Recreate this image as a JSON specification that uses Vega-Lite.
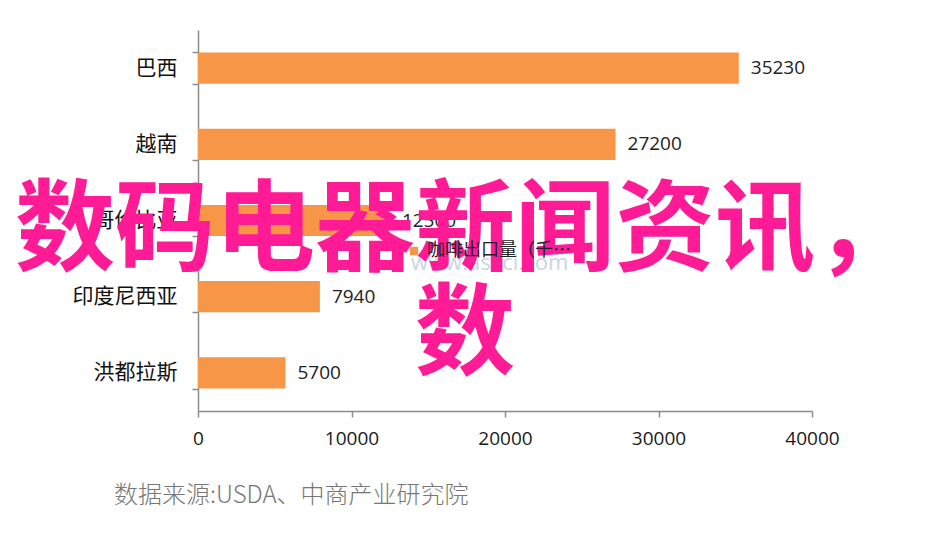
{
  "$schema": "https://vega.github.io/schema/vega-lite/v6.json",
  "width": 614,
  "height": 381,
  "autosize": {"type": "none"},
  "padding": {"left": 198, "top": 30, "right": 119, "bottom": 128},
  "background": "white",
  "config": {"view": {"stroke": null}, "font": "Noto Sans CJK SC"},
  "title": {
    "text": "数据来源:USDA、中商产业研究院",
    "orient": "bottom",
    "anchor": "start",
    "frame": "group",
    "dx": -84,
    "offset": 36,
    "fontSize": 24,
    "fontWeight": 300,
    "color": "#777777",
    "font": "Noto Sans CJK SC"
  },
  "data": {
    "values": [
      {"country": "巴西", "value": 35230, "series": "咖啡出口量（千包）"},
      {"country": "越南", "value": 27200, "series": "咖啡出口量（千包）"},
      {"country": "哥伦比亚", "value": 12500, "series": "咖啡出口量（千包）"},
      {"country": "印度尼西亚", "value": 7940, "series": "咖啡出口量（千包）"},
      {"country": "洪都拉斯", "value": 5700, "series": "咖啡出口量（千包）"}
    ]
  },
  "layer": [
    {
      "mark": {"type": "bar"},
      "encoding": {
        "y": {
          "field": "country",
          "type": "nominal",
          "sort": null,
          "scale": {"paddingInner": 0.59, "paddingOuter": 0.295},
          "axis": {
            "title": null,
            "tickBand": "extent",
            "domainColor": "#8c8c8c",
            "domainWidth": 1.5,
            "tickColor": "#8c8c8c",
            "tickWidth": 1.5,
            "tickSize": 6,
            "labelFontSize": 21,
            "labelColor": "#111111",
            "labelPadding": 15,
            "labelFont": "Noto Sans CJK SC"
          }
        },
        "x": {
          "field": "value",
          "type": "quantitative",
          "scale": {"domain": [0, 40000], "nice": false},
          "axis": {
            "title": null,
            "values": [0, 10000, 20000, 30000, 40000],
            "format": "d",
            "grid": false,
            "labelFlush": false,
            "domainColor": "#8c8c8c",
            "domainWidth": 1.5,
            "tickColor": "#8c8c8c",
            "tickWidth": 1.5,
            "tickSize": 6,
            "labelFontSize": 19,
            "labelColor": "#1a1a1a",
            "labelPadding": 12,
            "labelFont": "Open Sans"
          }
        },
        "color": {
          "field": "series",
          "type": "nominal",
          "scale": {"range": ["#F79646"]},
          "legend": {
            "orient": "none",
            "legendX": 207,
            "legendY": 212,
            "title": null,
            "symbolType": "square",
            "symbolSize": 70,
            "symbolStrokeWidth": 0,
            "labelFontSize": 18,
            "labelColor": "#222222",
            "labelFont": "Noto Sans CJK SC",
            "padding": 0
          }
        }
      }
    },
    {
      "mark": {"type": "text", "align": "left", "baseline": "middle", "dx": 12, "fontSize": 19, "color": "#222222", "font": "Open Sans"},
      "encoding": {
        "y": {"field": "country", "type": "nominal", "sort": null},
        "x": {"field": "value", "type": "quantitative"},
        "text": {"field": "value", "type": "quantitative", "format": "d"}
      }
    },
    {
      "data": {"values": [{"t": "www.askci.com"}]},
      "mark": {"type": "text", "align": "center", "baseline": "middle", "dy": 42, "fontSize": 22, "color": "#c9d6e2", "font": "Open Sans"},
      "encoding": {
        "x": {"datum": 19000, "type": "quantitative"},
        "y": {"datum": "哥伦比亚", "type": "nominal"},
        "text": {"field": "t"}
      }
    },
    {
      "data": {"values": [{"t": "overlay"}]},
      "mark": {
        "type": "text",
        "text": ["数码电器新闻资讯，", "数"],
        "align": "center",
        "baseline": "middle",
        "dy": 12,
        "fontSize": 100,
        "fontWeight": "bold",
        "lineHeight": 104,
        "color": "#ff1a96",
        "font": "Noto Sans CJK SC"
      },
      "encoding": {
        "x": {"datum": 17400, "type": "quantitative"},
        "y": {"datum": "哥伦比亚", "type": "nominal"}
      }
    }
  ]
}
